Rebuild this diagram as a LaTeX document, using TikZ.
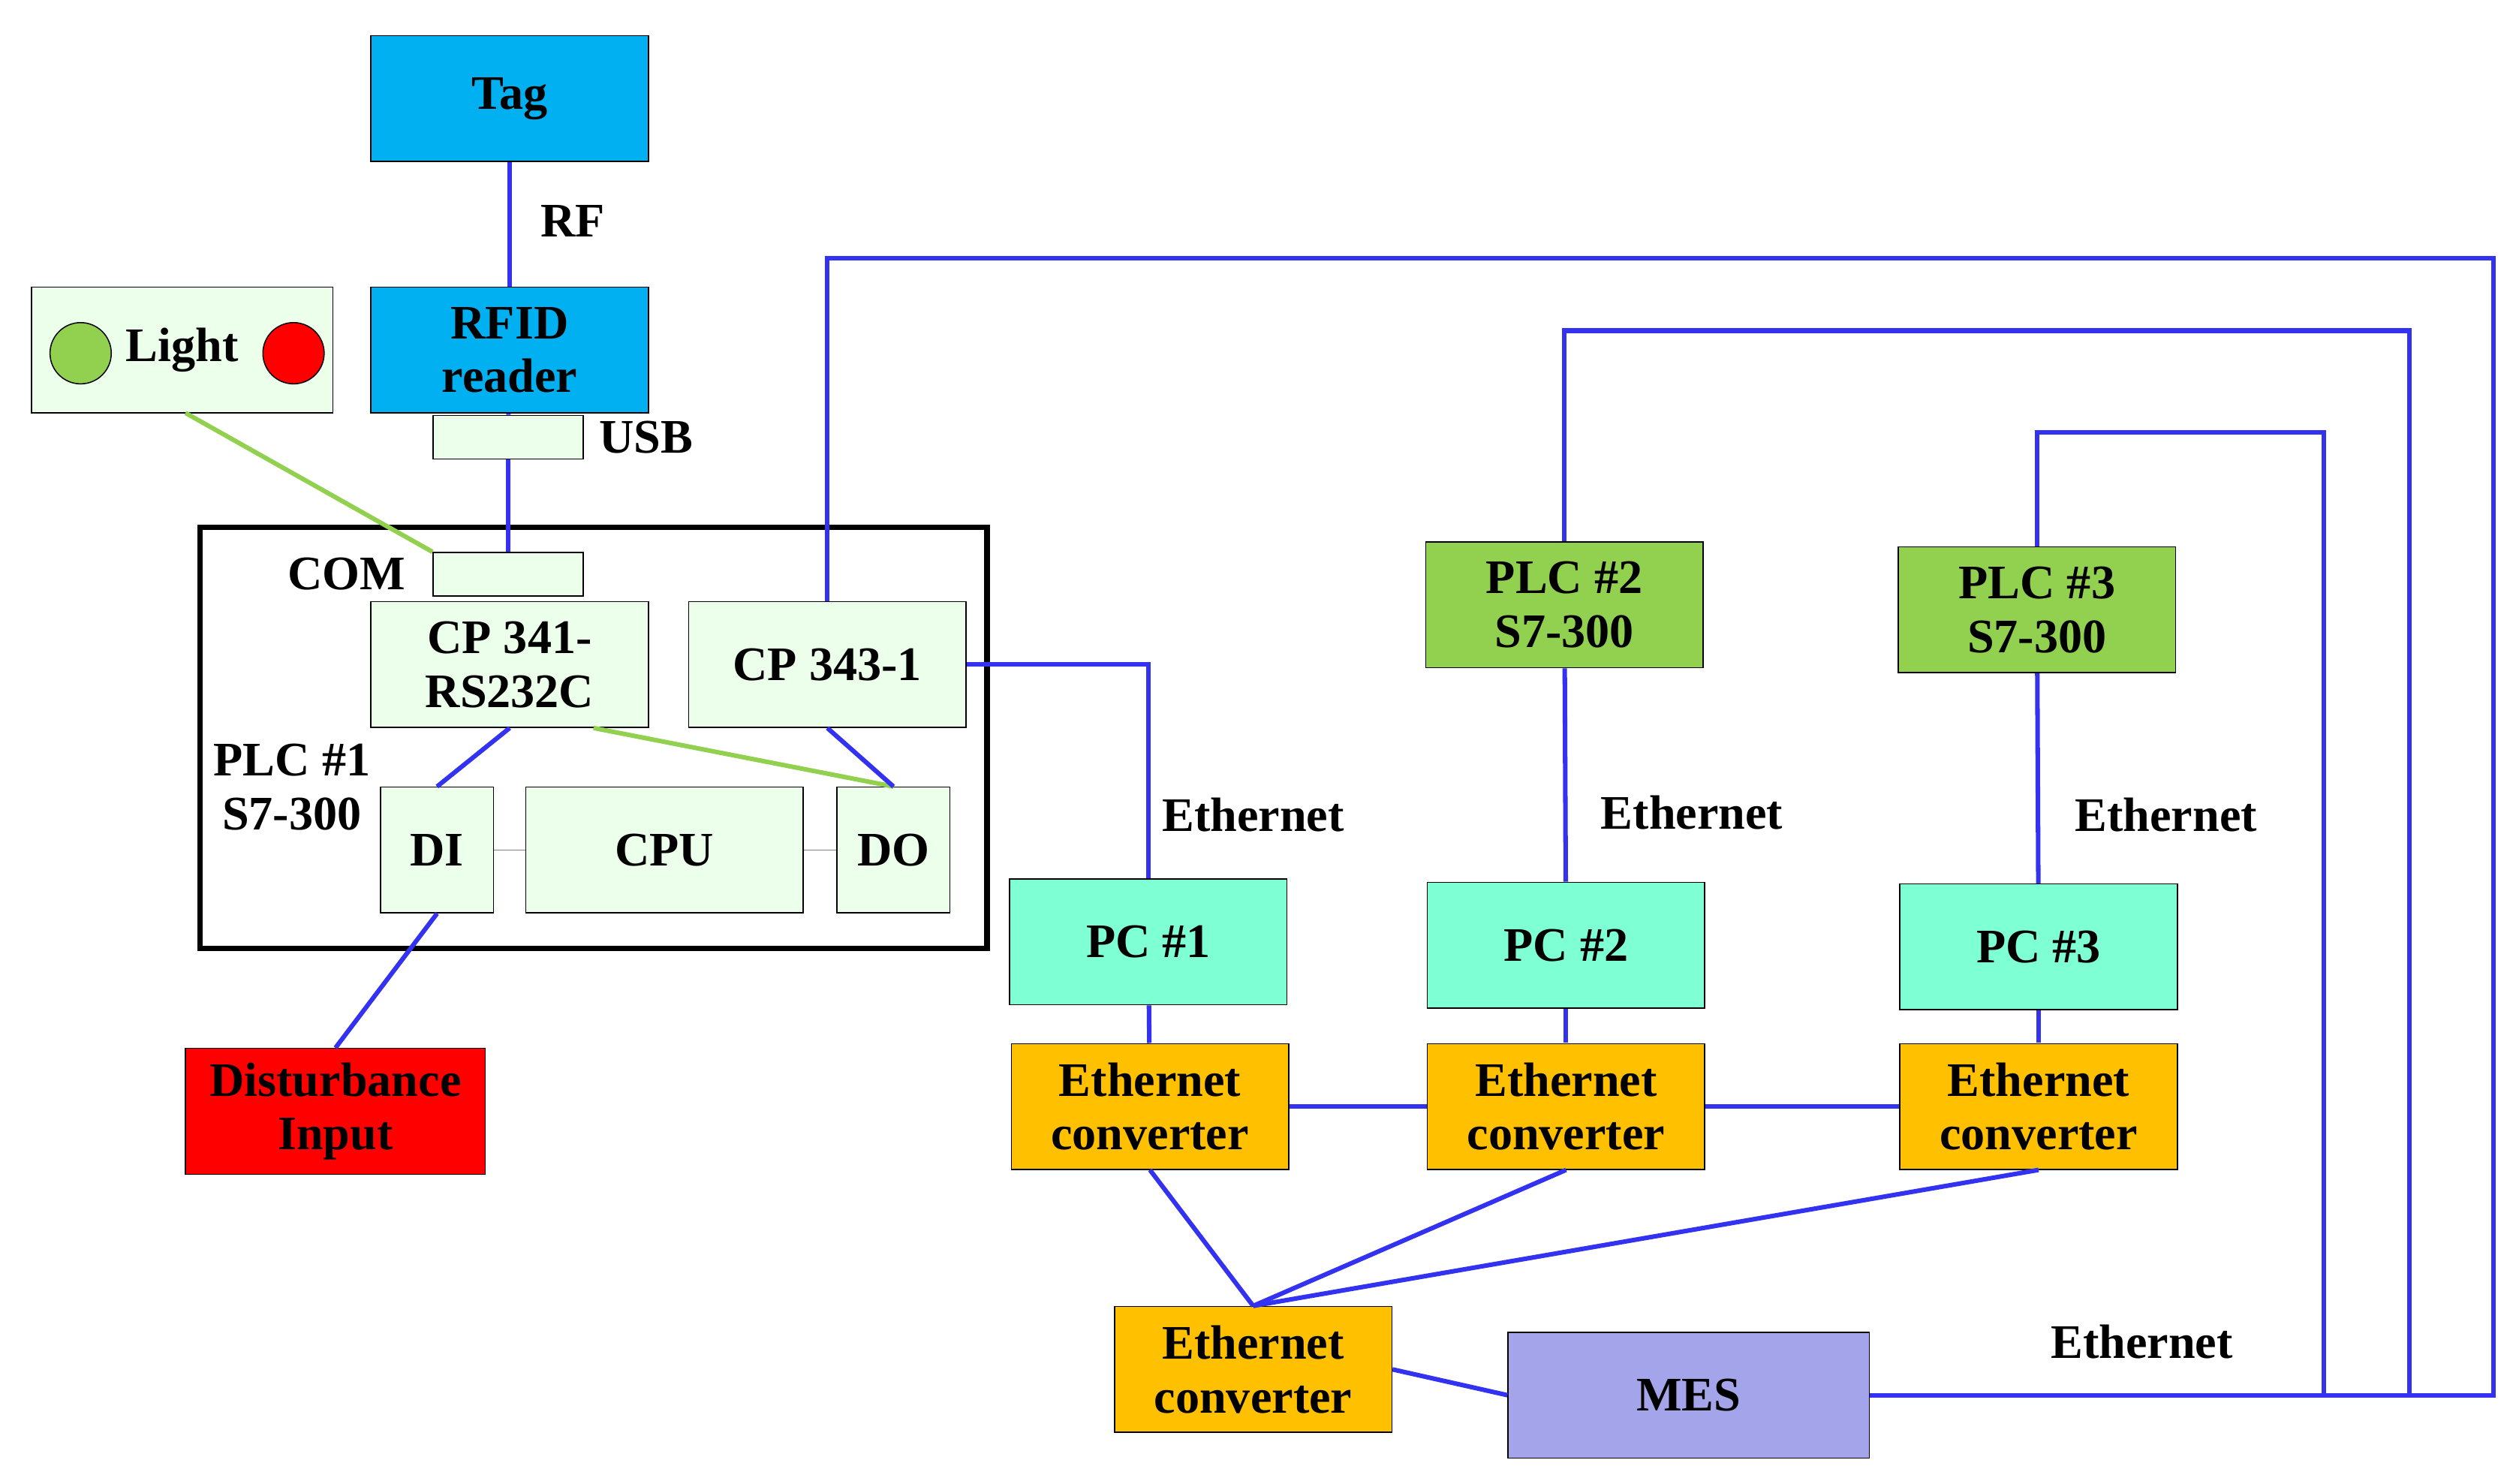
\documentclass[tikz,border=0pt]{standalone}
\usepackage{fontspec}
\setmainfont{Liberation Serif}
\usetikzlibrary{positioning, arrows.meta, calc}
\definecolor{tagblue}{RGB}{0,176,240}
\definecolor{paleg}{RGB}{235,255,235}
\definecolor{pcaqua}{RGB}{127,255,212}
\definecolor{plcgreen}{RGB}{146,208,80}
\definecolor{convorange}{RGB}{255,192,0}
\definecolor{mesblue}{RGB}{164,164,234}
\definecolor{netblue}{RGB}{50,50,240}
\definecolor{litegreen}{RGB}{146,208,80}
\begin{document}
\begin{tikzpicture}[
                x=0.02cm, y=-0.02cm,
                font=\fontsize{17}{19}\selectfont\bfseries,
                box/.style={draw=black, rectangle, minimum width=3.44cm, minimum height=1.56cm, inner sep=1pt, align=center},
                small/.style={draw=black, fill=paleg, rectangle, minimum width=1.86cm, minimum height=0.54cm, inner sep=0pt},
                net/.style={draw=netblue, line width=1.6pt},
                wire/.style={draw=litegreen, line width=1.6pt},
            ]
                \useasboundingbox (0,0) rectangle (1560,920);

                % RFID side
                \node[box, fill=tagblue] (tag) at (316,61) {Tag};
                \node[box, fill=tagblue] (rfid) at (316,217) {RFID\\reader};
                \node[small] (usb) at (315,271) {};
                \node[right=2pt of usb] (usblbl) {USB};
                \node[box, fill=paleg, minimum width=3.74cm] (light) at (113,217) {Light};
                \node[circle, draw=black, fill=litegreen, minimum size=0.76cm, inner sep=0pt] (lgreen) at (50,219) {};
                \node[circle, draw=black, fill=red, minimum size=0.76cm, inner sep=0pt] (lred) at (182,219) {};

                % PLC #1
                \draw[line width=2pt] (124,327) rectangle (612,588);
                \node[small] (com) at (315,356) {};
                \node[left=6pt of com] (comlbl) {COM};
                \node[box, fill=paleg] (cp341) at (316,412) {CP 341-\\RS232C};
                \node[box, fill=paleg] (cp343) at (513,412) {CP 343-1};
                \node[align=center] (plc1) at (181,488) {PLC \#1\\S7-300};
                \node[box, fill=paleg, minimum width=1.4cm] (di) at (271,527) {DI};
                \node[box, fill=paleg] (cpu) at (412,527) {CPU};
                \node[box, fill=paleg, minimum width=1.4cm] (do) at (554,527) {DO};
                \node[box, fill=red, minimum width=3.72cm] (dist) at (208,689) {Disturbance\\Input};

                % PCs, PLCs and converters
                \node[box, fill=pcaqua] (pc1) at (712,584) {PC \#1};
                \node[box, fill=pcaqua] (pc2) at (971,586) {PC \#2};
                \node[box, fill=pcaqua] (pc3) at (1264,587) {PC \#3};
                \node[box, fill=plcgreen] (plc2) at (970,375) {PLC \#2\\S7-300};
                \node[box, fill=plcgreen] (plc3) at (1263,378) {PLC \#3\\S7-300};
                \node[box, fill=convorange] (conv1) at (713,686) {Ethernet\\converter};
                \node[box, fill=convorange] (conv2) at (971,686) {Ethernet\\converter};
                \node[box, fill=convorange] (conv3) at (1264,686) {Ethernet\\converter};
                \node[box, fill=convorange] (conv0) at (777,849) {Ethernet\\converter};
                \node[box, fill=mesblue, minimum width=4.48cm] (mes) at (1047,865) {MES};

                % labels
                \node (rf) at (355,137) {RF};
                \node (eth1) at (777,505) {Ethernet};
                \node (eth2) at (1049,504) {Ethernet};
                \node (eth3) at (1343,505) {Ethernet};
                \node (eth4) at (1328,832) {Ethernet};

                % links
                \draw[net] (tag) -- (rfid);
                \draw[net] (rfid) -- (usb);
                \draw[net] (usb) -- (com);
                \draw[wire] (115,256) -- (com.north west);
                \draw[net] (cp341.south) -- (di.north);
                \draw[wire] ($(cp341.south)+(52,0)$) -- (do.north);
                \draw[net] (cp343.south) -- (do.north);
                \draw[gray] (di) -- (cpu);
                \draw[gray] (cpu) -- (do);
                \draw[net] (di.south) -- (dist.north);
                \draw[net] (cp343.east) -| (pc1.north);
                \draw[net] (cp343.north) |- (1546,160) |- (mes.east);
                \draw[net] (plc2.north) |- (1494,205) -- (1494,864);
                \draw[net] (plc3.north) |- (1441,268) -- (1441,864);
                \draw[net] (plc2) -- (pc2);
                \draw[net] (plc3) -- (pc3);
                \draw[net] (pc1) -- (conv1);
                \draw[net] (pc2) -- (conv2);
                \draw[net] (pc3) -- (conv3);
                \draw[net] (conv1) -- (conv2);
                \draw[net] (conv2) -- (conv3);
                \draw[net] (conv1.south) -- (conv0.north);
                \draw[net] (conv2.south) -- (conv0.north);
                \draw[net] (conv3.south) -- (conv0.north);
                \draw[net] (conv0.east) -- (mes.west);
            \end{tikzpicture}
\end{document}
